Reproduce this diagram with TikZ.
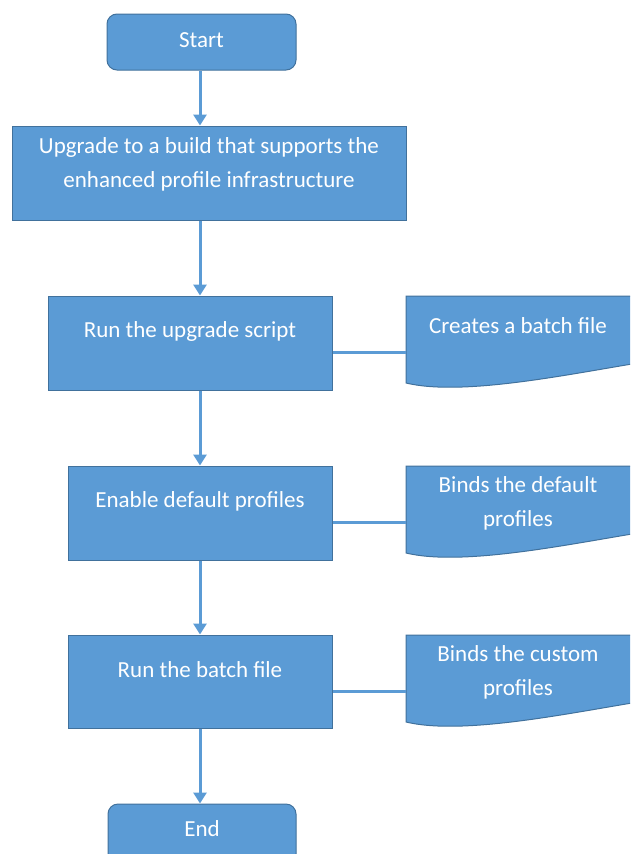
\documentclass[tikz,border=0pt]{standalone}
\usepackage{fontspec}
\setmainfont{Carlito}
\usetikzlibrary{arrows.meta}
\definecolor{boxfill}{HTML}{5B9BD5}
\definecolor{boxline}{HTML}{41719C}
\tikzset{
  term/.style={draw=boxline, fill=boxfill, line width=1pt, rounded corners=10pt, inner sep=0pt},
  proc/.style={draw=boxline, fill=boxfill, line width=1pt, inner sep=0pt},
  txt/.style={text=white, font=\fontsize{23}{34}\selectfont, align=center, inner sep=0pt},
  flow/.style={draw=boxfill, line width=3pt, -{Triangle[width=13pt,length=11pt]}},
  link/.style={draw=boxfill, line width=3pt},
  docshape/.style={draw=boxline, fill=boxfill, line width=1pt}
}
\begin{document}
\begin{tikzpicture}[x=1pt,y=-1pt]
\useasboundingbox (0,0) rectangle (630,854);
\clip (0,0) rectangle (630,854);
% main boxes
\node[term, minimum width=189pt, minimum height=56pt] (start) at (201.5,42) {};
\node[proc, minimum width=394pt, minimum height=94pt] (upg) at (209,173) {};
\node[proc, minimum width=284pt, minimum height=94pt] (script) at (190,343) {};
\node[proc, minimum width=264pt, minimum height=94pt] (enable) at (200,513) {};
\node[proc, minimum width=264pt, minimum height=93pt] (batch) at (200,681.5) {};
\node[term, minimum width=188pt, minimum height=60pt] (end) at (202,834) {};
% texts
\node[txt] (tstart) at (201.5,40) {Start};
\node[txt] (tupg) at (209,164) {Upgrade to a build that supports the\\enhanced profile infrastructure};
\node[txt] (tscript) at (190,331) {Run the upgrade script};
\node[txt] (tenable) at (200,501) {Enable default profiles};
\node[txt] (tbatch) at (200,670) {Run the batch file};
\node[txt] (tend) at (202,829) {End};
% documents
\foreach \n/\t in {d1/296, d2/466, d3/635}{
  \draw[docshape] (406,\t) -- (632,\t) -- (632,\t+68)
    .. controls (560,\t+80) and (460,\t+100) .. (406,\t+87) -- cycle;
  \coordinate (\n) at (406,\t+56);
}
\node[txt] (td1) at (518,326) {Creates a batch file};
\node[txt] (td2) at (518,503) {Binds the default\\profiles};
\node[txt] (td3) at (518,672) {Binds the custom\\profiles};
% connectors
\coordinate (s1) at (200,70);
\draw[flow] (start.south -| s1) -- (upg.north -| s1);
\draw[flow] (upg.south -| s1) -- (script.north -| s1);
\draw[flow] (script.south -| s1) -- (enable.north -| s1);
\draw[flow] (enable.south -| s1) -- (batch.north -| s1);
\draw[flow] (batch.south -| s1) -- (end.north -| s1);
\draw[link] (script.east |- d1) -- (d1);
\draw[link] (enable.east |- d2) -- (d2);
\draw[link] (batch.east |- d3) -- (d3);
\end{tikzpicture}
\end{document}
